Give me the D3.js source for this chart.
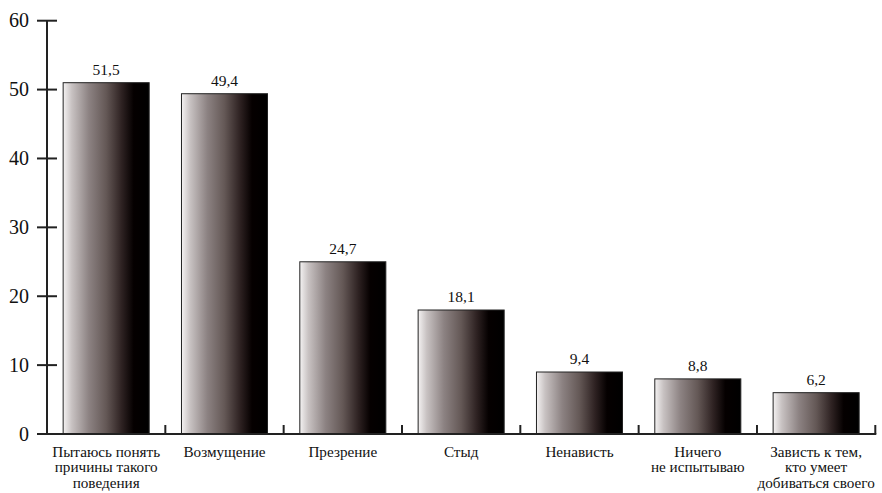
<!DOCTYPE html>
<html><head><meta charset="utf-8">
<script src="https://cdn.jsdelivr.net/npm/d3@7"></script>
<style>body{margin:0;background:#fff}svg{display:block}
svg text{font-family:"Liberation Serif","Times New Roman","DejaVu Serif",serif}</style>
</head><body>
<script>
const categories = [
  ["Пытаюсь понять","причины такого","поведения"],
  ["Возмущение"],
  ["Презрение"],
  ["Стыд"],
  ["Ненависть"],
  ["Ничего","не испытываю"],
  ["Зависть к тем,","кто умеет","добиваться своего"]
];
const barValues = [51, 49.4, 25, 18, 9, 8, 6];
const valueLabels = ["51,5","49,4","24,7","18,1","9,4","8,8","6,2"];
const yTicks = [0,10,20,30,40,50,60];

const W = 882, H = 493;
const svg = d3.select("body").append("svg").attr("width", W).attr("height", H);

const defs = svg.append("defs");
const g = defs.append("linearGradient").attr("id","barGrad").attr("x1","0%").attr("x2","100%");
[["0%","#f4f2f2"],["10%","#c8c2c2"],["30%","#8c8282"],["50%","#645856"],["68%","#2e2222"],["82%","#050000"],["100%","#000"]]
  .forEach(([o,c])=>g.append("stop").attr("offset",o).attr("stop-color",c));

const idx = categories.map((d,i)=>i);
const x = d3.scaleBand().domain(idx).range([47, 875.3]).padding(0);
const y = d3.scaleLinear().domain([0,60]).range([434, 20.7]);
const bw = x.bandwidth()*0.727;
const off = (x.bandwidth()-bw)/2;

// bars
svg.selectAll("rect.bar").data(barValues).join("rect")
  .attr("x",(d,i)=>x(i)+off).attr("y",d=>y(d))
  .attr("width",bw).attr("height",d=>y(0)-y(d))
  .attr("fill","url(#barGrad)").attr("stroke","#222").attr("stroke-width",1);

// value labels
svg.selectAll("text.val").data(barValues).join("text")
  .attr("x",(d,i)=>x(i)+x.bandwidth()/2).attr("y",d=>y(d)-8)
  .attr("text-anchor","middle").attr("font-size",15.5)
  .attr("fill","#111").text((d,i)=>valueLabels[i]);

// y axis
const axisColor = "#222";
svg.append("line").attr("x1",47).attr("x2",47).attr("y1",y(60)).attr("y2",y(0))
  .attr("stroke",axisColor).attr("stroke-width",2);
svg.selectAll("line.yt").data(yTicks).join("line")
  .attr("x1",37).attr("x2",57).attr("y1",d=>y(d)).attr("y2",d=>y(d))
  .attr("stroke",axisColor).attr("stroke-width",2);
svg.selectAll("text.yl").data(yTicks).join("text")
  .attr("x",29).attr("y",d=>y(d)+6.5).attr("text-anchor","end")
  .attr("font-size",20).attr("fill","#111").text(d=>d);

// x axis
svg.append("line").attr("x1",47).attr("x2",876.3).attr("y1",y(0)).attr("y2",y(0))
  .attr("stroke",axisColor).attr("stroke-width",2);
svg.selectAll("line.xt").data(idx).join("line")
  .attr("x1",i=>x(i)+x.bandwidth()).attr("x2",i=>x(i)+x.bandwidth())
  .attr("y1",y(0)).attr("y2",y(0)-9)
  .attr("stroke",axisColor).attr("stroke-width",2);

// category labels
const cl = svg.selectAll("text.cat").data(categories).join("text")
  .attr("text-anchor","middle").attr("font-size",15.2).attr("fill","#111");
cl.each(function(lines,i){
  d3.select(this).selectAll("tspan").data(lines).join("tspan")
    .attr("x",x(i)+x.bandwidth()/2).attr("y",(d,j)=>456.5+j*15.8).text(d=>d);
});
</script>
</body></html>
